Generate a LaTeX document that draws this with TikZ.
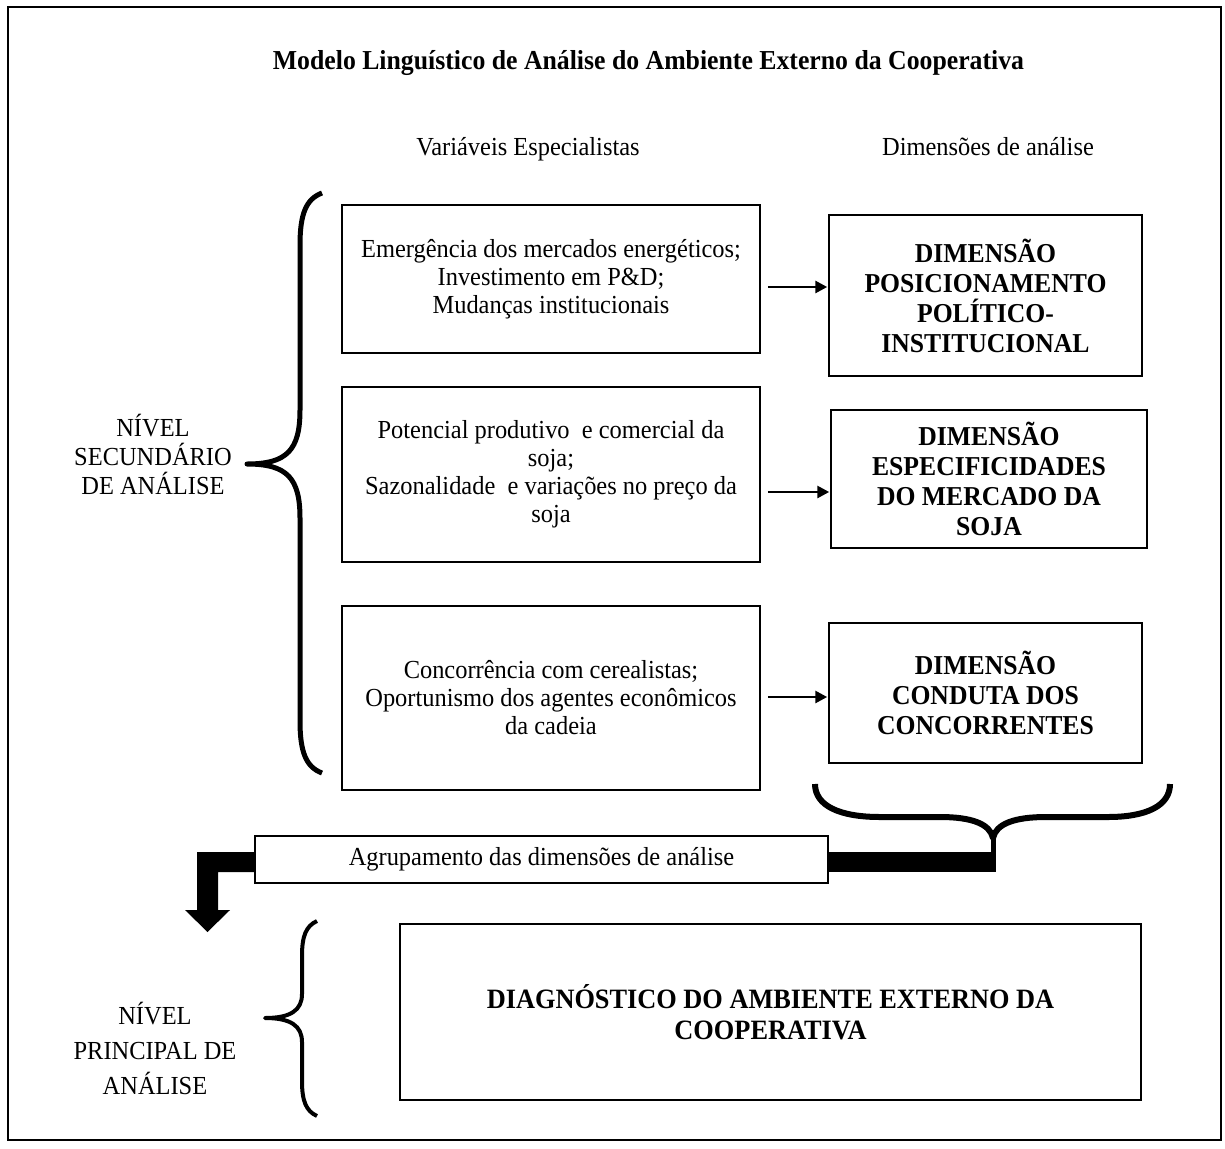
\documentclass[tikz,border=0pt]{standalone}
\usepackage{fontspec}
\setmainfont{Liberation Serif}[FakeStretch=0.94]
\usetikzlibrary{arrows.meta,calc}
\begin{document}
\begin{tikzpicture}[x=1pt,y=-1pt,
  box/.style={draw,line width=1.5pt,align=center,inner sep=0pt,font=\fontsize{26}{28}\selectfont},
  dimbox/.style={draw,line width=1.5pt,align=center,inner sep=0pt,font=\fontsize{27.3}{30}\selectfont\bfseries},
  lbl/.style={align=center,inner sep=0pt,font=\fontsize{26}{29}\selectfont},
  brace/.style={line width=5pt,line cap=butt,line join=round},
  link/.style={line width=2.8pt,-{Triangle[length=12pt,width=12pt]},shorten >=1pt}]
\useasboundingbox (0,0) rectangle (1225,1148);
% outer frame
\draw[line width=2pt] (8,7) rectangle (1221,1140);

% headings
\node[inner sep=0pt,anchor=base,font=\fontsize{27.4}{30}\selectfont\bfseries] (title) at (648.5,70)
  {Modelo Linguístico de Análise do Ambiente Externo da Cooperativa};
\node[lbl,anchor=base] (hvar) at (528,155.5) {Variáveis Especialistas};
\node[lbl,anchor=base] (hdim) at (988,155.5) {Dimensões de análise};

% specialist variables
\node[box,minimum width=418pt,minimum height=148pt] (v1) at (551,279)
  {Emergência dos mercados energéticos;\\Investimento em P\&D;\\Mudanças institucionais};
\node[box,minimum width=418pt,minimum height=175pt] (v2) at (551,474.5)
  {Potencial produtivo\ \ e comercial da\\soja;\\Sazonalidade\ \ e variações no preço da\\soja};
\node[box,minimum width=418pt,minimum height=184pt] (v3) at (551,698)
  {Concorrência com cerealistas;\\Oportunismo\ dos agentes econômicos\\da cadeia};

% analysis dimensions
\node[dimbox,minimum width=313pt,minimum height=161pt] (d1) at (985.5,295.5)
  {DIMENSÃO\\POSICIONAMENTO\\POLÍTICO-\\INSTITUCIONAL};
\node[dimbox,minimum width=316pt,minimum height=138pt] (d2) at (989,479)
  {DIMENSÃO\\ESPECIFICIDADES\\DO MERCADO DA\\SOJA};
\node[dimbox,minimum width=313pt,minimum height=140pt] (d3) at (985.5,693)
  {DIMENSÃO\\CONDUTA DOS\\CONCORRENTES};

% links variables -> dimensions
\draw[link] ([shift={(7,8)}]v1.east) coordinate (a1) -- (a1 -| d1.west);
\draw[link] ([shift={(7,17.5)}]v2.east) coordinate (a2) -- (a2 -| d2.west);
\draw[link] ([shift={(7,-1)}]v3.east) coordinate (a3) -- (a3 -| d3.west);

% secondary level
\node[lbl] (nsec) at (153,454) {NÍVEL\\SECUNDÁRIO\\DE ANÁLISE};
\draw[brace] (322,193) .. controls (306,199) and (300,214) .. (300,245)
  -- (300,410) .. controls (300,450) and (287,464) .. (247,464)
  .. controls (287,464) and (300,478) .. (300,518)
  -- (300,721) .. controls (300,752) and (306,767) .. (322,773);

% grouping brace under the dimensions
\coordinate (bt) at (993,838);
\draw[line width=6pt,line join=round] (815,784) .. controls (815,806) and (840,817) .. (880,817)
  -- (940,817) .. controls (972,817) and (990,824) .. (bt)
  .. controls (996,824) and (1014,817) .. (1046,817)
  -- (1108,817) .. controls (1146,817) and (1170,806) .. (1170,784);
\draw[line width=5pt] (bt) -- ++(0,16);

\node[box,minimum width=573pt,minimum height=47pt] (ag) at (541.5,859.5)
  {Agrupamento das dimensões de análise};

% thick bar from the brace into the grouping box
\fill (ag.east |- 0,852) rectangle (995.5,872);
% thick bent arrow down to the main level
\fill (ag.west |- 0,852) -- (197,852) -- (197,910) -- (185,910) -- (207.5,932)
  -- (230,910) -- (218,910) -- (218,872) -- (ag.west |- 0,872) -- cycle;

% main level
\node[lbl,font=\fontsize{26}{35}\selectfont] (nprin) at (155,1048) {NÍVEL\\PRINCIPAL DE\\ANÁLISE};
\draw[line width=4pt,line join=round] (317,921) .. controls (306,926) and (302,936) .. (302,956)
  -- (302,994) .. controls (302,1010) and (291,1018) .. (265,1018)
  .. controls (291,1018) and (302,1026) .. (302,1042)
  -- (302,1081) .. controls (302,1101) and (306,1111) .. (317,1116);
\node[draw,line width=1.5pt,align=center,inner sep=0pt,minimum width=741pt,minimum height=176pt,
  font=\fontsize{28}{31}\selectfont\bfseries] (diag) at (770.5,1012)
  {DIAGNÓSTICO\ DO AMBIENTE EXTERNO DA\\COOPERATIVA};
\end{tikzpicture}
\end{document}
